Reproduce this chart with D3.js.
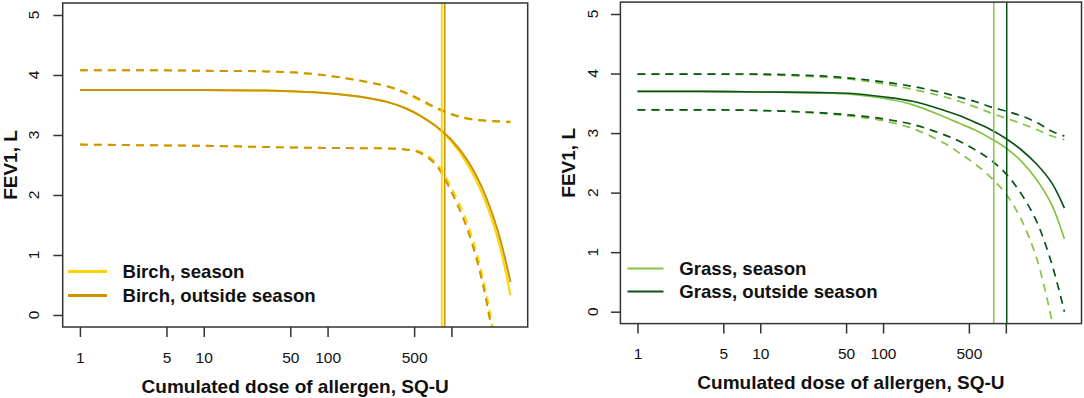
<!DOCTYPE html>
<html>
<head>
<meta charset="utf-8">
<script src="https://cdn.jsdelivr.net/npm/d3@7"></script>
<style>
  body { margin: 0; background: #fff; }
  svg { display: block; font-family: "Liberation Sans", Arial, sans-serif; }
</style>
</head>
<body>
<div id="chart"></div>
<script>
// Tick labels shared by both panels
const xTicks = [1, 5, 10, 50, 100, 500, 1000];
const xTickLabels = ["1", "5", "10", "50", "100", "500", ""];
const yTicks = [0, 1, 2, 3, 4, 5];

// Dose grid (SQ-U) that every curve is read at
const dose = [1, 3.16, 10, 31.6, 56.2, 100, 178, 316, 422, 562, 750, 1000, 1334, 1778, 2371, 3000];

// Birch: mean FEV1 and dashed upper / lower limits
const birchSeasonMean = [3.75, 3.75, 3.75, 3.74, 3.725, 3.695, 3.64, 3.54, 3.45, 3.32, 3.14, 2.89, 2.53, 2.02, 1.27, 0.33];
const birchSeasonUp   = [4.08, 4.08, 4.07, 4.06, 4.04, 3.99, 3.91, 3.80, 3.70, 3.57, 3.44, 3.34, 3.27, 3.24, 3.22, 3.21];
const birchSeasonLo   = [2.84, 2.83, 2.82, 2.80, 2.79, 2.785, 2.78, 2.775, 2.76, 2.72, 2.54, 2.12, 1.55, 0.66, -0.75, -2.4];
const birchOutMean    = [3.75, 3.75, 3.75, 3.74, 3.725, 3.695, 3.64, 3.54, 3.45, 3.32, 3.15, 2.92, 2.59, 2.11, 1.40, 0.55];
const birchOutUp      = [4.08, 4.08, 4.07, 4.06, 4.04, 3.99, 3.91, 3.80, 3.71, 3.59, 3.46, 3.35, 3.28, 3.245, 3.23, 3.22];
const birchOutLo      = [2.84, 2.83, 2.82, 2.80, 2.79, 2.785, 2.78, 2.775, 2.76, 2.70, 2.50, 2.05, 1.45, 0.55, -0.9, -2.5];

// Grass
const grassSeasonMean = [3.70, 3.70, 3.69, 3.675, 3.65, 3.585, 3.47, 3.27, 3.16, 3.05, 2.91, 2.75, 2.53, 2.22, 1.79, 1.22];
const grassSeasonUp   = [3.99, 3.99, 3.98, 3.94, 3.90, 3.83, 3.73, 3.61, 3.53, 3.44, 3.34, 3.25, 3.16, 3.06, 2.95, 2.89];
const grassSeasonLo   = [3.39, 3.39, 3.38, 3.33, 3.28, 3.21, 3.07, 2.83, 2.66, 2.48, 2.26, 1.98, 1.55, 0.90, -0.15, -1.3];
const grassOutMean    = [3.70, 3.70, 3.69, 3.68, 3.665, 3.61, 3.53, 3.38, 3.29, 3.18, 3.06, 2.91, 2.72, 2.48, 2.16, 1.74];
const grassOutUp      = [3.99, 3.99, 3.99, 3.96, 3.92, 3.86, 3.78, 3.67, 3.60, 3.53, 3.44, 3.37, 3.29, 3.18, 3.03, 2.95];
const grassOutLo      = [3.39, 3.39, 3.38, 3.34, 3.30, 3.24, 3.14, 2.97, 2.86, 2.72, 2.55, 2.32, 1.98, 1.52, 0.80, 0.0];

// Vertical reference doses
const birchRefDose = [836, 883];
const grassRefDose = [797, 1017];

const legendBirch = ["Birch, season", "Birch, outside season"];
const legendGrass = ["Grass, season", "Grass, outside season"];

const colBirch = ["#FFD200", "#C99406"];
const colGrass = ["#84C441", "#0A5418"];

const W = 1084, H = 398;
const svg = d3.select("#chart").append("svg")
    .attr("width", W)
    .attr("height", H);

const pairs = ys => dose.map((x, i) => [x, ys[i]]);

const panels = [
    {
        id: "birch",
        box: { left: 62.7, right: 527.7, top: 3, bottom: 327 },
        yTitleX: 10, yTickX: 33, xTitleY: 386, xTickPad: 14.5,
        legendLabels: legendBirch, colors: colBirch, lw: 2, legendLw: 3,
        legend: { x1: 68, x2: 107, y: [271.5, 295.5], tx: 122.5 },
        refs: birchRefDose, refW: [1.8, 1.6],
        series: [
            [pairs(birchSeasonMean), pairs(birchSeasonUp), pairs(birchSeasonLo)],
            [pairs(birchOutMean), pairs(birchOutUp), pairs(birchOutLo)]
        ]
    },
    {
        id: "grass",
        box: { left: 620.4, right: 1081.5, top: 2.1, bottom: 323.6 },
        yTitleX: 568, yTickX: 592, xTitleY: 382, xTickPad: 14,
        legendLabels: legendGrass, colors: colGrass, lw: 1.7, legendLw: 2.2,
        legend: { x1: 627.5, x2: 663.5, y: [268.5, 291.5], tx: 679.3 },
        refs: grassRefDose, refW: [1.5, 1.5],
        series: [
            [pairs(grassSeasonMean), pairs(grassSeasonUp), pairs(grassSeasonLo)],
            [pairs(grassOutMean), pairs(grassOutUp), pairs(grassOutLo)]
        ]
    }
];

panels.forEach(p => {
    const b = p.box;
    // R style: 4% extension around the data range
    const lmax = Math.log10(d3.max(dose));
    const lx = 0.04 * lmax;
    const x = d3.scaleLog()
        .domain([Math.pow(10, -lx), Math.pow(10, lmax + lx)])
        .range([b.left, b.right]);
    const y = d3.scaleLinear()
        .domain([-0.2, 5.2])
        .range([b.bottom, b.top]);

    const g = svg.append("g");

    svg.append("clipPath").attr("id", "clip-" + p.id)
        .append("rect")
        .attr("x", b.left).attr("y", b.top)
        .attr("width", b.right - b.left).attr("height", b.bottom - b.top);

    const plot = g.append("g").attr("clip-path", `url(#clip-${p.id})`);

    const line = d3.line()
        .x(d => x(d[0]))
        .y(d => y(d[1]))
        .curve(d3.curveCatmullRom.alpha(0.5));

    // dashed limits first, then mean lines
    p.series.forEach((s, i) => {
        [s[1], s[2]].forEach(band => {
            plot.append("path")
                .attr("d", line(band))
                .attr("fill", "none")
                .attr("stroke", p.colors[i])
                .attr("stroke-width", p.lw)
                .attr("stroke-dasharray", "8,6");
        });
    });
    p.series.forEach((s, i) => {
        plot.append("path")
            .attr("d", line(s[0]))
            .attr("fill", "none")
            .attr("stroke", p.colors[i])
            .attr("stroke-width", p.lw);
    });

    // vertical reference lines
    p.refs.forEach((r, i) => {
        plot.append("line")
            .attr("x1", x(r)).attr("x2", x(r))
            .attr("y1", b.top).attr("y2", b.bottom)
            .attr("stroke", p.colors[i])
            .attr("stroke-width", p.refW[i]);
    });

    // box
    g.append("rect")
        .attr("x", b.left).attr("y", b.top)
        .attr("width", b.right - b.left).attr("height", b.bottom - b.top)
        .attr("fill", "none")
        .attr("stroke", "#333")
        .attr("stroke-width", 1.5);

    // x axis
    const xAxis = g.append("g")
        .attr("transform", `translate(0,${b.bottom})`)
        .call(d3.axisBottom(x)
            .tickValues(xTicks)
            .tickFormat((d, i) => xTickLabels[i])
            .tickSize(10)
            .tickPadding(p.xTickPad));
    xAxis.select(".domain").remove();
    xAxis.selectAll("line").attr("stroke", "#333").attr("stroke-width", 1.5);
    xAxis.selectAll("text").attr("font-size", 15.5).attr("fill", "#111")
        .attr("font-family", "Liberation Sans, Arial, sans-serif");

    // y axis (labels rotated like R's default)
    const yAxis = g.append("g")
        .attr("transform", `translate(${b.left},0)`)
        .call(d3.axisLeft(y).tickValues(yTicks).tickSize(9.4).tickFormat(""));
    yAxis.select(".domain").remove();
    yAxis.selectAll("line").attr("stroke", "#333").attr("stroke-width", 1.5);

    g.selectAll(".ylab")
        .data(yTicks)
        .join("text")
        .attr("class", "ylab")
        .attr("transform", d => `translate(${p.yTickX},${y(d)}) rotate(-90)`)
        .attr("text-anchor", "middle")
        .attr("dy", "0.36em")
        .attr("font-size", 15.5)
        .attr("fill", "#111")
        .text(d => d);

    // axis titles
    g.append("text")
        .attr("x", (b.left + b.right) / 2)
        .attr("y", p.xTitleY)
        .attr("dy", "0.36em")
        .attr("text-anchor", "middle")
        .attr("font-size", 19)
        .attr("font-weight", "bold")
        .attr("fill", "#111")
        .text("Cumulated dose of allergen, SQ-U");

    g.append("text")
        .attr("transform", `translate(${p.yTitleX},${y(2.5)}) rotate(-90)`)
        .attr("dy", "0.36em")
        .attr("text-anchor", "middle")
        .attr("font-size", 19)
        .attr("font-weight", "bold")
        .attr("fill", "#111")
        .text("FEV1, L");

    // legend
    p.legendLabels.forEach((lab, i) => {
        g.append("line")
            .attr("x1", p.legend.x1).attr("x2", p.legend.x2)
            .attr("y1", p.legend.y[i]).attr("y2", p.legend.y[i])
            .attr("stroke", p.colors[i])
            .attr("stroke-width", p.legendLw);
        g.append("text")
            .attr("x", p.legend.tx)
            .attr("y", p.legend.y[i])
            .attr("dy", "0.36em")
            .attr("font-size", 18.6)
            .attr("font-weight", "bold")
            .attr("fill", "#111")
            .text(lab);
    });
});
</script>
</body>
</html>
